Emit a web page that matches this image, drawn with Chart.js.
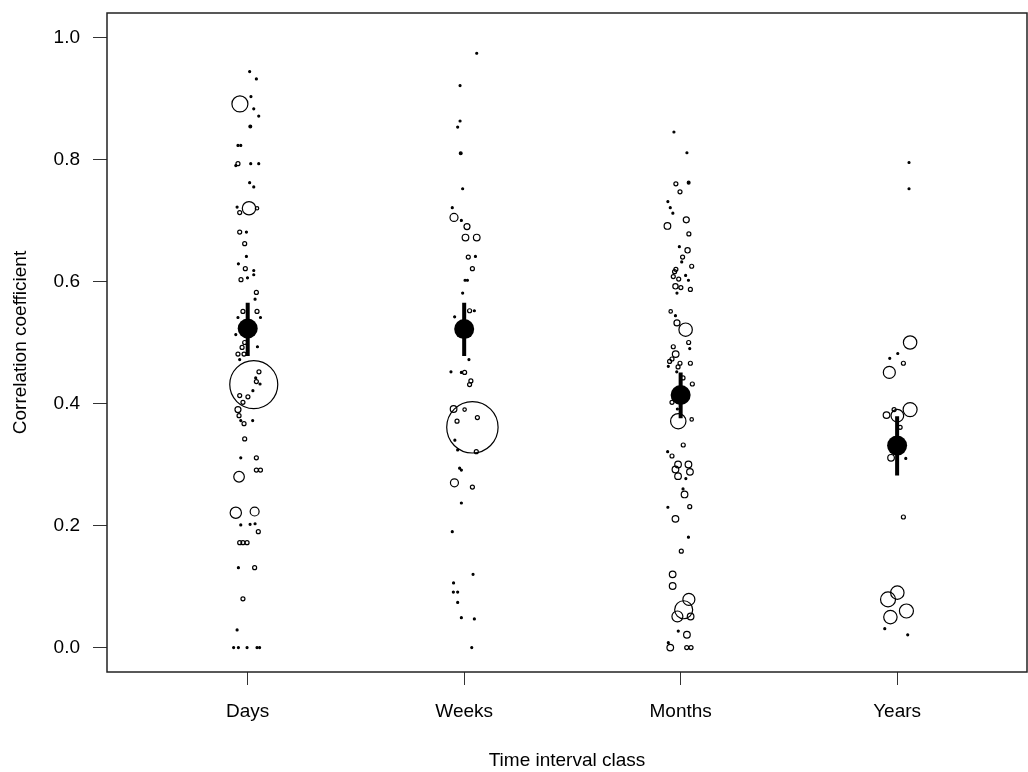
<!DOCTYPE html>
<html>
<head>
<meta charset="utf-8">
<script src="https://cdn.jsdelivr.net/npm/chart.js@4/dist/chart.umd.min.js"></script>
<style>
  body { margin: 0; background: #fff; }
  #corrChart { display: block; }
</style>
</head>
<body>
<canvas id="corrChart" width="1028" height="772"></canvas>
<script>
const categories = ["Days", "Weeks", "Months", "Years"];
const yTicks = [0, 0.2, 0.4, 0.6, 0.8, 1.0];

// [jittered x, correlation, weight]
const daysPoints = [
  [1.009, 0.944, 1], [1.040, 0.932, 1], [0.964, 0.891, 64], [1.015, 0.903, 1],
  [1.028, 0.883, 1], [1.051, 0.871, 1], [1.012, 0.854, 2], [0.955, 0.823, 1],
  [0.968, 0.823, 1], [0.955, 0.793, 4], [0.945, 0.790, 1], [1.014, 0.793, 1],
  [1.051, 0.793, 1], [1.009, 0.762, 1], [1.028, 0.755, 1], [1.006, 0.720, 45],
  [1.043, 0.720, 3], [0.951, 0.722, 1], [0.963, 0.713, 4], [0.963, 0.681, 4],
  [0.994, 0.681, 1], [0.986, 0.662, 4], [0.994, 0.641, 1], [0.957, 0.629, 1],
  [0.989, 0.621, 4], [1.028, 0.618, 1], [1.028, 0.611, 1], [0.969, 0.603, 4],
  [0.999, 0.606, 1], [1.040, 0.582, 4], [1.034, 0.571, 1], [0.978, 0.551, 4],
  [0.955, 0.541, 1], [1.043, 0.551, 4], [1.059, 0.541, 1], [0.945, 0.513, 1],
  [0.986, 0.500, 4], [0.974, 0.492, 4], [0.955, 0.481, 4], [0.983, 0.481, 4],
  [1.045, 0.493, 1], [0.963, 0.472, 1], [1.028, 0.431, 576], [1.052, 0.452, 4],
  [1.040, 0.436, 4], [1.057, 0.432, 1], [1.037, 0.442, 1], [1.024, 0.421, 1],
  [1.001, 0.411, 4], [0.963, 0.413, 4], [0.978, 0.402, 4], [0.955, 0.390, 9],
  [0.960, 0.380, 4], [0.968, 0.372, 1], [0.983, 0.367, 4], [1.023, 0.372, 1],
  [0.986, 0.342, 4], [0.968, 0.311, 1], [1.040, 0.311, 4], [1.040, 0.291, 4],
  [1.059, 0.291, 4], [0.960, 0.280, 28], [0.945, 0.221, 32], [1.032, 0.223, 20],
  [0.968, 0.201, 1], [1.011, 0.202, 1], [1.034, 0.203, 1], [1.049, 0.190, 4],
  [0.963, 0.172, 4], [0.978, 0.172, 4], [0.997, 0.172, 4], [0.957, 0.131, 1],
  [1.032, 0.131, 4], [0.978, 0.080, 4], [0.951, 0.029, 1], [0.935, 0.000, 1],
  [0.957, 0.000, 1], [0.997, 0.000, 1], [1.043, 0.000, 1], [1.055, 0.000, 1]
];

const weeksPoints = [
  [2.058, 0.974, 1], [1.981, 0.921, 1], [1.981, 0.863, 1], [1.970, 0.853, 1],
  [1.984, 0.810, 2], [1.993, 0.752, 1], [1.945, 0.721, 1], [1.953, 0.705, 16],
  [1.987, 0.700, 1], [2.013, 0.690, 9], [2.006, 0.672, 11], [2.058, 0.672, 11],
  [2.019, 0.640, 4], [2.052, 0.641, 1], [2.038, 0.621, 4], [2.004, 0.602, 1],
  [2.015, 0.602, 1], [1.993, 0.581, 1], [2.025, 0.552, 4], [2.047, 0.552, 1],
  [1.956, 0.542, 1], [2.022, 0.472, 1], [1.939, 0.452, 1], [2.002, 0.451, 4],
  [1.987, 0.451, 1], [2.031, 0.437, 4], [2.025, 0.431, 4], [2.038, 0.361, 660],
  [1.951, 0.391, 11], [2.002, 0.390, 3], [1.967, 0.371, 4], [2.061, 0.377, 4],
  [1.957, 0.340, 1], [1.970, 0.324, 1], [2.056, 0.321, 4], [1.979, 0.294, 1],
  [1.987, 0.291, 1], [1.955, 0.270, 16], [2.038, 0.263, 4], [1.987, 0.237, 1],
  [1.945, 0.190, 1], [2.041, 0.120, 1], [1.951, 0.106, 1], [1.950, 0.091, 1],
  [1.970, 0.091, 1], [1.970, 0.074, 1], [1.987, 0.049, 1], [2.047, 0.047, 1],
  [2.035, 0.000, 1]
];

const monthsPoints = [
  [2.969, 0.845, 1], [3.029, 0.811, 1], [2.978, 0.760, 4], [3.037, 0.762, 2],
  [2.997, 0.747, 4], [2.941, 0.731, 1], [2.952, 0.721, 1], [2.964, 0.712, 1],
  [2.939, 0.691, 11], [3.026, 0.701, 9], [3.038, 0.678, 4], [2.994, 0.657, 1],
  [3.032, 0.651, 7], [3.009, 0.640, 4], [3.005, 0.632, 1], [3.051, 0.625, 4],
  [2.978, 0.620, 4], [2.972, 0.616, 4], [2.966, 0.608, 4], [2.991, 0.604, 4],
  [3.023, 0.610, 1], [3.036, 0.602, 1], [2.976, 0.592, 7], [3.001, 0.590, 4],
  [2.983, 0.581, 1], [3.045, 0.587, 4], [2.954, 0.551, 3], [2.976, 0.544, 1],
  [2.983, 0.532, 9], [3.023, 0.521, 45], [2.966, 0.493, 4], [3.037, 0.500, 4],
  [3.042, 0.490, 1], [2.977, 0.481, 11], [2.960, 0.473, 4], [2.949, 0.469, 4],
  [2.997, 0.466, 4], [3.045, 0.466, 4], [2.943, 0.461, 1], [2.988, 0.460, 4],
  [2.982, 0.452, 1], [3.011, 0.442, 4], [3.054, 0.432, 4], [2.960, 0.402, 4],
  [2.985, 0.391, 1], [2.989, 0.371, 59], [3.051, 0.374, 3], [3.012, 0.332, 4],
  [2.940, 0.321, 1], [2.960, 0.314, 4], [2.988, 0.300, 11], [3.036, 0.300, 11],
  [2.976, 0.292, 11], [3.043, 0.288, 11], [2.988, 0.281, 11], [3.024, 0.277, 1],
  [3.011, 0.260, 1], [3.018, 0.251, 11], [2.941, 0.230, 1], [3.042, 0.231, 4],
  [2.976, 0.211, 11], [3.036, 0.181, 1], [3.003, 0.158, 4], [2.963, 0.120, 11],
  [2.963, 0.101, 11], [3.038, 0.079, 36], [3.014, 0.062, 81], [2.985, 0.051, 30],
  [3.046, 0.051, 11], [2.989, 0.027, 1], [3.029, 0.021, 11], [2.952, 0.000, 11],
  [2.943, 0.008, 1], [3.028, 0.000, 4], [3.048, 0.000, 4]
];

const yearsPoints = [
  [4.055, 0.795, 1], [4.055, 0.752, 1], [4.060, 0.500, 45], [3.966, 0.474, 1],
  [4.003, 0.482, 1], [4.029, 0.466, 4], [3.964, 0.451, 36], [4.060, 0.390, 49],
  [4.001, 0.380, 40], [3.951, 0.381, 11], [3.986, 0.390, 4], [4.014, 0.361, 4],
  [3.972, 0.311, 11], [4.040, 0.310, 1], [4.029, 0.214, 4], [4.001, 0.090, 45],
  [3.958, 0.079, 56], [4.043, 0.060, 49], [3.969, 0.050, 45], [3.943, 0.031, 1],
  [4.049, 0.021, 1]
];

const meanValues = [0.523, 0.522, 0.414, 0.331];
const ciLower = [0.478, 0.478, 0.376, 0.282];
const ciUpper = [0.565, 0.565, 0.451, 0.379];

const FONT = "'Liberation Sans', Arial, Helvetica, sans-serif";
const INK = "#000";

function toBubbles(points) {
  return points.map(([x, y, w]) => ({ x, y, r: Math.sqrt(w) }));
}

const allPoints = []
  .concat(toBubbles(daysPoints))
  .concat(toBubbles(weeksPoints))
  .concat(toBubbles(monthsPoints))
  .concat(toBubbles(yearsPoints));

const meanPoints = meanValues.map((m, i) => ({ x: i + 1, y: m, r: 10 }));

// vertical CI segments, separated by gaps
const ciSegments = [];
categories.forEach((c, i) => {
  ciSegments.push({ x: i + 1, y: ciLower[i] });
  ciSegments.push({ x: i + 1, y: ciUpper[i] });
  ciSegments.push({ x: i + 1, y: null });
});

const frame = {
  id: "frame",
  afterDraw(chart) {
    const { ctx, chartArea: a } = chart;
    ctx.save();
    ctx.strokeStyle = "#222";
    ctx.lineWidth = 1.5;
    ctx.strokeRect(a.left, a.top, a.right - a.left, a.bottom - a.top);
    ctx.restore();
  }
};

const ctx = document.getElementById("corrChart").getContext("2d");

new Chart(ctx, {
  type: "bubble",
  data: {
    datasets: [
      {
        label: "Mean",
        data: meanPoints,
        backgroundColor: INK,
        borderColor: INK,
        borderWidth: 0,
        order: 0
      },
      {
        type: "line",
        label: "CI",
        data: ciSegments,
        borderColor: INK,
        borderWidth: 4,
        borderCapStyle: "butt",
        pointRadius: 0,
        spanGaps: false,
        fill: false,
        order: 1
      },
      {
        label: "Studies",
        data: allPoints,
        // the tiniest studies read as solid dots
        backgroundColor: (c) => (c.raw && c.raw.r < 1.5 ? INK : "rgba(0,0,0,0)"),
        borderColor: INK,
        borderWidth: 1.2,
        order: 2
      }
    ]
  },
  options: {
    responsive: false,
    animation: false,
    events: [],
    layout: {
      autoPadding: false,
      padding: { top: 13, right: 1, left: 0, bottom: 0 }
    },
    plugins: {
      legend: { display: false },
      tooltip: { enabled: false }
    },
    scales: {
      x: {
        type: "linear",
        min: 0.35,
        max: 4.6,
        afterBuildTicks: (scale) => {
          scale.ticks = categories.map((c, i) => ({ value: i + 1 }));
        },
        afterFit: (scale) => {
          scale.height = 100;
          scale.paddingLeft = 0;
          scale.paddingRight = 0;
        },
        ticks: {
          color: INK,
          font: { family: FONT, size: 19 },
          padding: 15,
          maxRotation: 0,
          callback: (v) => categories[v - 1]
        },
        grid: {
          drawOnChartArea: false,
          drawTicks: true,
          tickLength: 13,
          color: "#333",
          lineWidth: 1
        },
        border: { display: false },
        title: {
          display: true,
          text: "Time interval class",
          color: INK,
          font: { family: FONT, size: 19 },
          padding: { top: 0, bottom: 0 }
        }
      },
      y: {
        min: -0.04,
        max: 1.04,
        afterBuildTicks: (scale) => {
          scale.ticks = yTicks.map((v) => ({ value: v }));
        },
        afterFit: (scale) => {
          scale.width = 107;
          scale.paddingTop = 0;
          scale.paddingBottom = 0;
        },
        ticks: {
          color: INK,
          font: { family: FONT, size: 19 },
          padding: 13,
          callback: (v) => v.toFixed(1)
        },
        grid: {
          drawOnChartArea: false,
          drawTicks: true,
          tickLength: 14,
          color: "#333",
          lineWidth: 1
        },
        border: { display: false },
        title: {
          display: true,
          text: "Correlation coefficient",
          color: INK,
          font: { family: FONT, size: 19 },
          padding: { top: 9, bottom: 0 }
        }
      }
    }
  },
  plugins: [frame]
});
</script>
</body>
</html>
